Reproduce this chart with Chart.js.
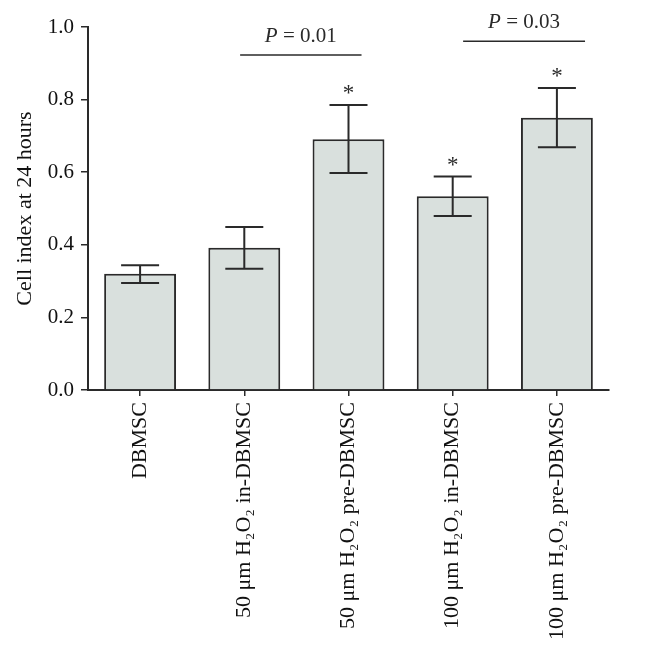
<!DOCTYPE html>
<html lang="en">
<head>
    <meta charset="UTF-8">
    <title>Cell index at 24 hours</title>
    <script src="https://cdn.jsdelivr.net/npm/chart.js"></script>
    <style>
        body {
            margin: 0;
            padding: 0;
            background: white;
        }
        .chart-container {
            width: 646px;
            height: 653px;
        }
    </style>
</head>
<body>
    <div class="chart-container">
        <canvas id="cellChart"></canvas>
    </div>

    <script>
        const groups = [
            'DBMSC',
            '50 μm H₂O₂ in-DBMSC',
            '50 μm H₂O₂ pre-DBMSC',
            '100 μm H₂O₂ in-DBMSC',
            '100 μm H₂O₂ pre-DBMSC'
        ];
        const cellIndex = [0.32, 0.392, 0.691, 0.534, 0.750];
        const errUpper = [0.344, 0.449, 0.785, 0.588, 0.832];
        const errLower = [0.295, 0.334, 0.598, 0.479, 0.669];
        const starred = [false, false, true, true, true];
        const yTicks = [0, 0.2, 0.4, 0.6, 0.8, 1.0];
        // comparison brackets: from group, to group, p text, height
        const brackets = [
            { from: 0.96, to: 2.125, p: '0.01', y: 0.923 },
            { from: 3.1, to: 4.27, p: '0.03', y: 0.961 }
        ];

        const serif = '"Liberation Serif", "DejaVu Serif", serif';
        const ink = '#2a2a2a';

        const annotate = {
            id: 'annotate',
            afterDatasetsDraw(chart) {
                const c = chart.ctx;
                const x = chart.scales.x;
                const y = chart.scales.y;
                c.save();
                c.strokeStyle = ink;
                c.fillStyle = ink;
                c.lineWidth = 2;
                // error bars
                cellIndex.forEach((v, i) => {
                    const px = x.getPixelForValue(i);
                    const top = y.getPixelForValue(errUpper[i]);
                    const bot = y.getPixelForValue(errLower[i]);
                    c.beginPath();
                    c.moveTo(px, top); c.lineTo(px, bot);
                    c.moveTo(px - 19, top); c.lineTo(px + 19, top);
                    c.moveTo(px - 19, bot); c.lineTo(px + 19, bot);
                    c.stroke();
                    if (starred[i]) {
                        c.font = '23px ' + serif;
                        c.textAlign = 'center';
                        c.textBaseline = 'middle';
                        c.fillText('*', px, top - 11);
                    }
                });
                // p value brackets
                brackets.forEach(b => {
                    const x1 = x.getPixelForValue(b.from);
                    const x2 = x.getPixelForValue(b.to);
                    const py = y.getPixelForValue(b.y);
                    c.beginPath();
                    c.lineWidth = 1.5;
                    c.moveTo(x1, py); c.lineTo(x2, py);
                    c.stroke();
                    const rest = ' = ' + b.p;
                    c.font = 'italic 21px ' + serif;
                    const wP = c.measureText('P').width;
                    c.font = '21px ' + serif;
                    const wR = c.measureText(rest).width;
                    const sx = (x1 + x2) / 2 - (wP + wR) / 2;
                    c.textAlign = 'left';
                    c.textBaseline = 'alphabetic';
                    c.font = 'italic 21px ' + serif;
                    c.fillText('P', sx, py - 13);
                    c.font = '21px ' + serif;
                    c.fillText(rest, sx + wP, py - 13);
                });
                c.restore();
            }
        };

        const ctx = document.getElementById('cellChart').getContext('2d');
        new Chart(ctx, {
            type: 'bar',
            data: {
                labels: groups,
                datasets: [{
                    data: cellIndex,
                    backgroundColor: '#d9e0dd',
                    borderColor: ink,
                    borderWidth: 2,
                    barPercentage: 0.69,
                    categoryPercentage: 1.0
                }]
            },
            options: {
                responsive: true,
                maintainAspectRatio: false,
                animation: false,
                layout: {
                    padding: { top: 27, right: 37, left: 0, bottom: 0 }
                },
                plugins: {
                    legend: { display: false },
                    tooltip: { enabled: false }
                },
                scales: {
                    x: {
                        afterFit(scale) { scale.height = 263; },
                        grid: {
                            display: true,
                            offset: false,
                            drawOnChartArea: false,
                            drawTicks: true,
                            tickLength: 6,
                            color: ink,
                            lineWidth: 1.5
                        },
                        border: { display: true, color: ink, width: 2 },
                        ticks: {
                            maxRotation: 90,
                            minRotation: 90,
                            padding: 6,
                            color: '#111',
                            font: { family: serif, size: 22 }
                        }
                    },
                    y: {
                        min: 0,
                        max: 1,
                        afterFit(scale) { scale.width = 88; },
                        afterBuildTicks(scale) {
                            scale.ticks = yTicks.map(v => ({ value: v }));
                        },
                        grid: {
                            display: true,
                            drawOnChartArea: false,
                            drawTicks: true,
                            tickLength: 7,
                            color: ink,
                            lineWidth: 1.5
                        },
                        border: { display: true, color: ink, width: 2 },
                        ticks: {
                            padding: 7,
                            color: '#111',
                            font: { family: serif, size: 21 },
                            callback: v => Number(v).toFixed(1)
                        },
                        title: {
                            display: true,
                            text: 'Cell index at 24 hours',
                            color: '#111',
                            font: { family: serif, size: 22 },
                            padding: { top: 12, bottom: 0 }
                        }
                    }
                }
            },
            plugins: [annotate]
        });
    </script>
</body>
</html>
